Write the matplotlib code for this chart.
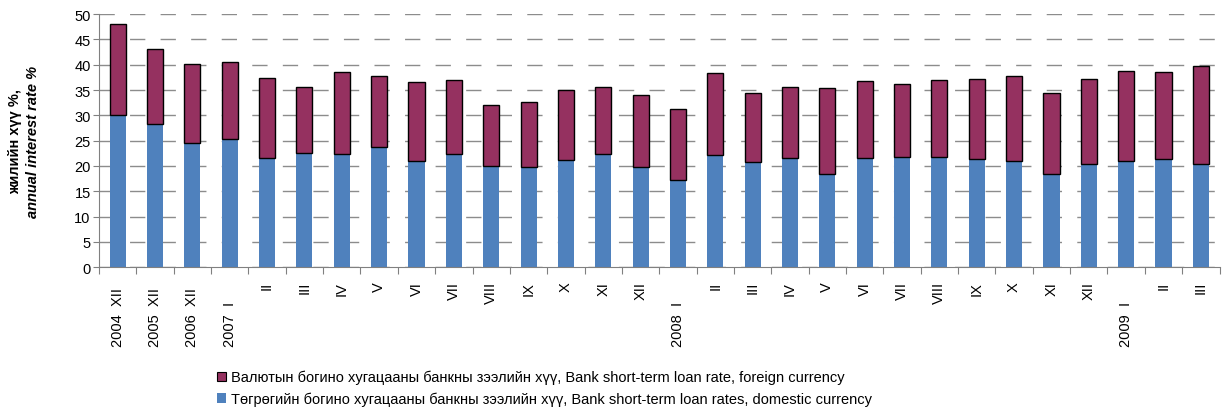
import matplotlib.pyplot as plt
import numpy as np
from matplotlib.patches import Patch

plt.rcParams['font.family'] = ['Liberation Sans', 'DejaVu Sans']
plt.rcParams['lines.scale_dashes'] = False

months = ['XII', 'XII', 'XII', 'I', 'II', 'III', 'IV', 'V', 'VI', 'VII', 'VIII', 'IX', 'X', 'XI', 'XII',
          'I', 'II', 'III', 'IV', 'V', 'VI', 'VII', 'VIII', 'IX', 'X', 'XI', 'XII',
          'I', 'II', 'III']
years = {0: '2004', 1: '2005', 2: '2006', 3: '2007', 15: '2008', 27: '2009'}

total = [48.0, 43.2, 40.1, 40.5, 37.3, 35.7, 38.6, 37.8, 36.5, 36.9, 32.0, 32.6, 35.1, 35.7, 34.1,
         31.2, 38.4, 34.5, 35.6, 35.5, 36.7, 36.1, 37.0, 37.2, 37.7, 34.5, 37.2, 38.7, 38.6, 39.8]
domestic = [30.0, 28.2, 24.5, 25.3, 21.5, 22.5, 22.3, 23.7, 20.9, 22.3, 19.9, 19.7, 21.2, 22.3, 19.8,
            17.3, 22.1, 20.7, 21.6, 18.4, 21.6, 21.7, 21.7, 21.4, 20.9, 18.5, 20.3, 21.0, 21.4, 20.3]
foreign = [t - d for t, d in zip(total, domestic)]

lab_foreign = 'Валютын богино хугацааны банкны зээлийн хүү, Bank short-term loan rate, foreign currency'
lab_domestic = 'Төгрөгийн богино хугацааны банкны зээлийн хүү, Bank short-term loan rates, domestic currency'

blue = '#4F81BD'
maroon = '#953160'
fs = 10.5

fig = plt.figure(figsize=(12.22, 4.10), dpi=100)
ax = fig.add_axes([0.081, 0.346, 0.917, 0.617])

x = np.arange(len(months))
ax.bar(x, domestic, width=0.43, color=blue, zorder=2)
ax.bar(x, foreign, width=0.43, bottom=domestic, color=maroon, edgecolor='black', linewidth=1.0, zorder=2)

ax.set_ylim(0, 50)
ax.set_xlim(-0.5, len(months) - 0.5)
ax.set_yticks(np.arange(0, 51, 5))
ax.yaxis.grid(True, color='#8c8c8c', linewidth=1.0, dashes=(11, 11), zorder=0)
ax.set_axisbelow(True)

for s in ['top', 'right']:
    ax.spines[s].set_visible(False)
ax.spines['left'].set_color('#808080')
ax.spines['bottom'].set_color('#808080')
ax.tick_params(axis='y', direction='out', length=4, color='#808080', labelsize=fs, pad=2)

ax.set_xticks(np.arange(-0.5, len(months), 1.0), minor=False)
ax.set_xticklabels([])
ax.tick_params(axis='x', which='major', direction='out', length=5, color='#808080')
ax.set_xticks(x, minor=True)
ax.set_xticklabels([m if i not in years else '' for i, m in enumerate(months)], minor=True,
                   rotation=90, fontsize=fs, va='top')
ax.tick_params(axis='x', which='minor', length=0, pad=10)

for i, yr in years.items():
    ax.text(i, -0.31, yr + '  ' + months[i], transform=ax.get_xaxis_transform(),
            rotation=90, ha='center', va='bottom', fontsize=fs)

fig.text(0.012, 0.655, 'жилийн хүү %,', rotation=90, ha='center', va='center',
         fontsize=fs, fontweight='bold')
fig.text(0.027, 0.655, 'annual interest rate %', rotation=90, ha='center', va='center',
         fontsize=fs, fontweight='bold', style='italic')

handles = [Patch(facecolor=maroon, edgecolor='black', linewidth=0.8),
           Patch(facecolor=blue, edgecolor='none')]
fig.legend(handles, [lab_foreign, lab_domestic], loc='upper left', bbox_to_anchor=(0.172, 0.113),
           frameon=False, fontsize=fs, handlelength=0.6, handleheight=0.6, handletextpad=0.3,
           labelspacing=0.5, borderpad=0)

plt.savefig('out.png', dpi=100)
